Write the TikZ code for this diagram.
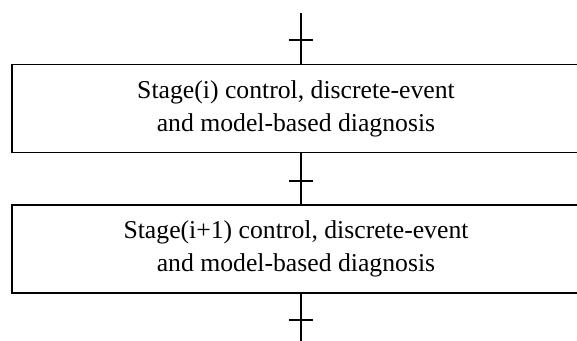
\documentclass[tikz,border=0pt]{standalone}
\usepackage{fontspec}
\setmainfont{Liberation Serif}
\usepackage{tikz}
\tikzset{
	stagebox/.style={draw,line width=1.8pt,minimum width=568pt,minimum height=88pt,align=center,inner sep=0pt,font=\fontsize{25.7}{33}\selectfont},
	link/.style={line width=1.8pt},
	tick/.style={line width=1.6pt}
}

\begin{document}
\begin{tikzpicture}[x=1pt,y=1pt]
	\useasboundingbox (0,0) rectangle (577,-340);
	\node [stagebox] (stagei) at (296,-108.5) {Stage(i) control, discrete-event\\and model-based diagnosis};
	\node [stagebox] (stageii) at (296,-249) {Stage(i+1) control, discrete-event\\and model-based diagnosis};
	\coordinate (in) at (301,-13);
	\coordinate (out) at (301,-341);
	\coordinate (t1) at (301,-40);
	\coordinate (t2) at (301,-181);
	\coordinate (t3) at (301,-320);

	\draw [link] (in) -- (in |- stagei.north);
	\draw [link] (in |- stagei.south) -- (in |- stageii.north);
	\draw [link] (in |- stageii.south) -- (out);
	\foreach \t in {t1,t2,t3}
		\draw [tick] ([xshift=-12pt]\t) -- ([xshift=12pt]\t);
\end{tikzpicture}
\end{document}
